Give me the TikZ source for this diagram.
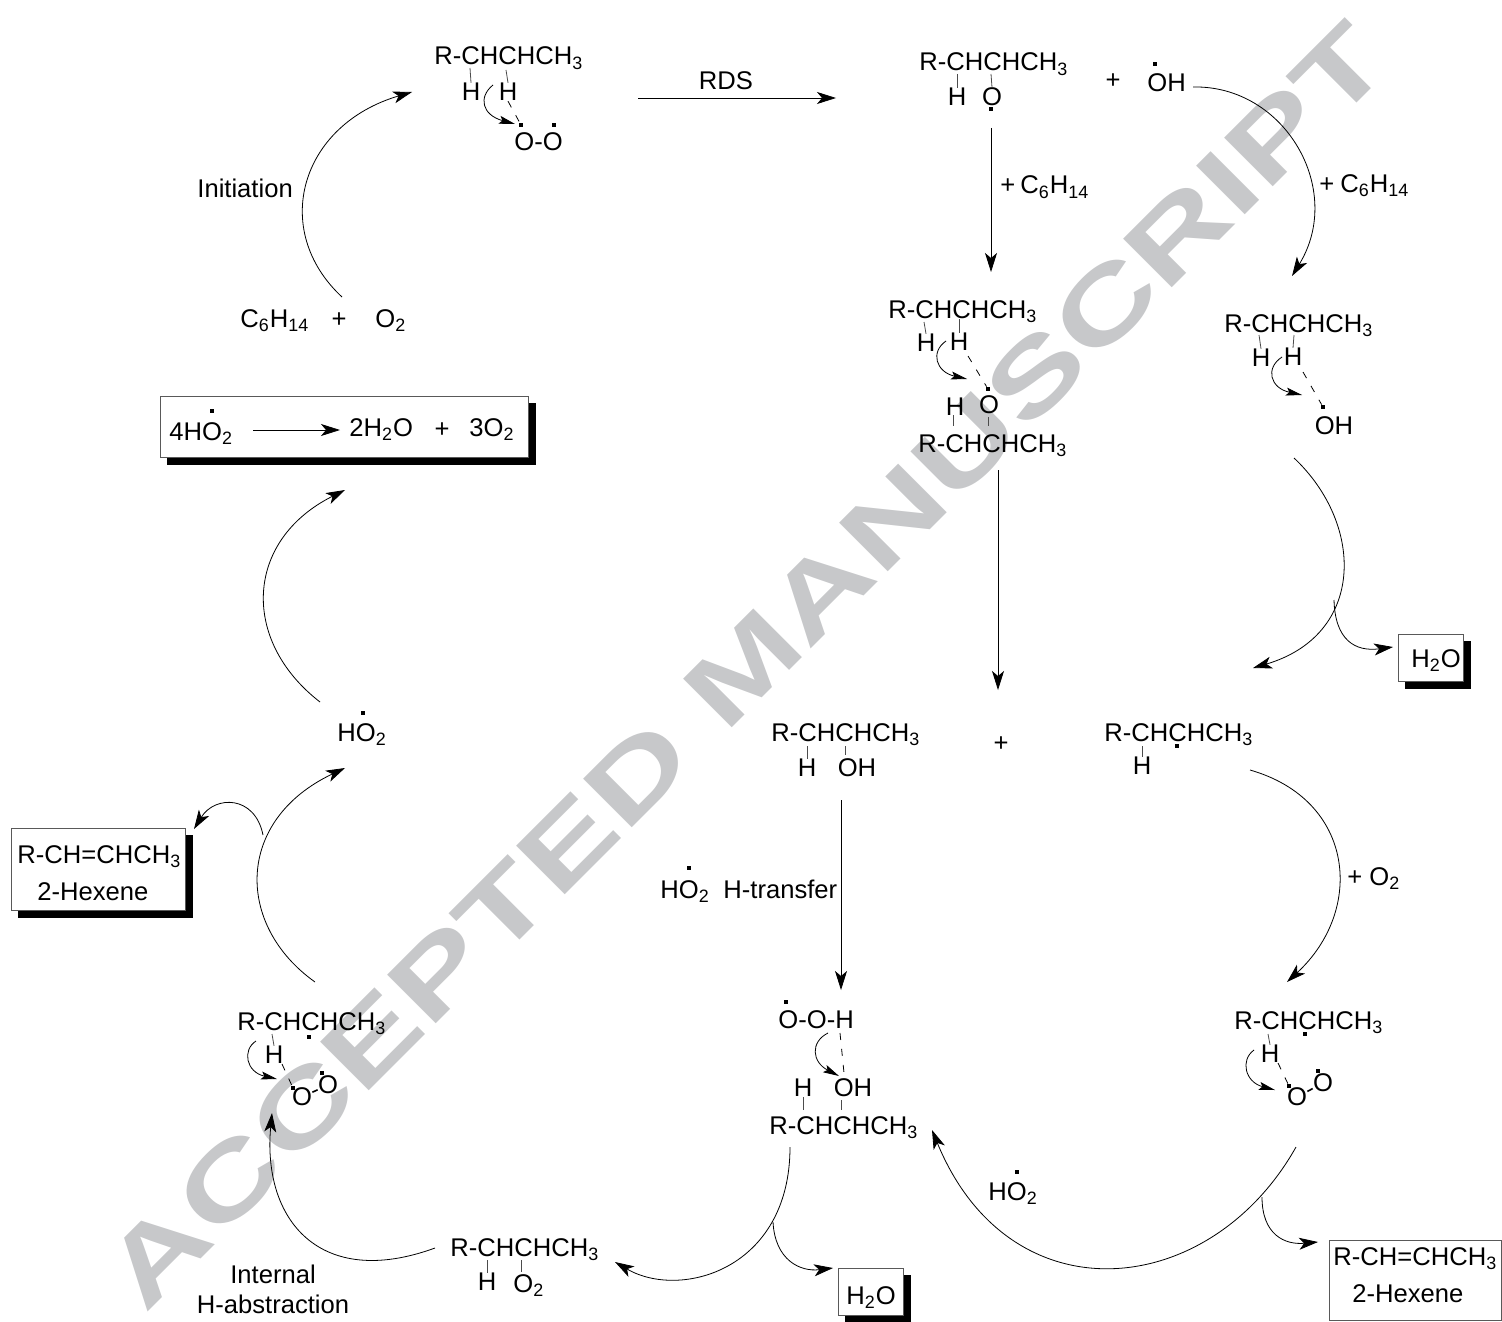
\documentclass[tikz,border=0pt]{standalone}
\usepackage{fontspec}
\setmainfont{Liberation Sans}
\newfontfamily\markfont[FakeStretch=1.42]{Liberation Sans}
\usetikzlibrary{arrows.meta,shadows}
\definecolor{markgrey}{RGB}{199,200,202}
\newcommand{\chain}{R-CHCHCH\textsubscript{3}}
\newcommand{\hexene}{R-CH=CHCH\textsubscript{3}}
\begin{document}
\begin{tikzpicture}[x=0.5pt,y=-0.5pt,
    txt/.style={anchor=base west, inner sep=0pt, font=\fontsize{12.8}{14}\selectfont},
    mid/.style={txt, anchor=center},
    rad/.style={fill=black, inner sep=0pt, minimum size=2pt},
    bond/.style={line width=0.4pt, black!70},
    oobond/.style={line width=0.8pt},
    hbond/.style={line width=0.4pt, dash pattern=on 3.5pt off 4.5pt},
    arr/.style={-{Stealth[length=9.5pt,width=6pt,inset=2.5pt]}, line width=0.4pt},
    barr/.style={-{Stealth[length=8pt,width=4pt,inset=1.5pt]}, line width=0.4pt},
    framebox/.style={draw=black!65, fill=white, line width=0.5pt, inner sep=0pt, anchor=north west},
    shadowbox/.style={framebox, copy shadow={draw=black, fill=black, shadow xshift=3.5pt, shadow yshift=-3.5pt}}
]
\useasboundingbox (0,0) rectangle (1502,1321);

% watermark
\node[anchor=base west, inner sep=0pt, text=markgrey, rotate=45, font=\markfont\fontsize{50}{50}\selectfont\bfseries] (mark) at (145,1315) {ACCEPTED MANUSCRIPT};

% boxes
\node[shadowbox, minimum width=184pt, minimum height=30.5pt] (boxrate) at (160,396) {};
\node[shadowbox, minimum width=32.5pt, minimum height=23.5pt] (boxwatera) at (1398,634) {};
\node[shadowbox, minimum width=87pt, minimum height=41pt] (boxhexa) at (11,828) {};
\node[shadowbox, minimum width=32.5pt, minimum height=23.5pt] (boxwaterb) at (838,1268) {};
\node[framebox, minimum width=86pt, minimum height=40pt] (boxhexb) at (1329,1240) {};

% top left
\node[txt] (init) at (197,198) {Initiation};
\node[txt] (hexane) at (240,327) {C\textsubscript{6}H\textsubscript{14}};
\node[mid] (plusa) at (339,320) {+};
\node[txt] (oxygen) at (375,327) {O\textsubscript{2}};

% peroxide on top
\node[txt] (chaina) at (434,65) {\chain};
\node[mid] (ha) at (471,92) {H};
\node[mid] (hb) at (508,92) {H};
\node[txt] (ooa) at (514,151) {O-O};
\node[rad] (rada) at (521,125) {};
\node[rad] (radb) at (554,125) {};
\draw[bond] (470,68) -- (ha.north);
\draw[bond] (506,70) -- (hb.north);
\draw[hbond] (hb.south) -- (rada);
\coordinate (cua) at (493,85);
\coordinate (cub) at (515,124);
\draw[barr] (cua) .. controls (478,97) and (482,115) .. (cub);

% RDS
\coordinate (rdsa) at (638,98);
\coordinate (rdsb) at (836,98);
\draw[arr] (rdsa) -- (rdsb);
\node[mid] (rds) at (726,81) {RDS};

% alkoxy
\node[txt] (chainb) at (919,71) {\chain};
\node[mid] (hc) at (957,97) {H};
\node[mid] (oa) at (992,97) {O};
\node[rad] (radc) at (991,109) {};
\draw[bond] (957,74) -- (hc.north);
\draw[bond] (991,74) -- (oa.north);
\node[mid] (plusb) at (1113,81) {+};
\node[txt] (oha) at (1147,92) {OH};
\node[rad] (radd) at (1155,64) {};

% initiation arcs
\coordinate (inita) at (342,297);
\coordinate (initb) at (412,92);
\draw[arr] (inita) .. controls (270,230) and (300,125) .. (initb);
\coordinate (oha1) at (1193,87);
\coordinate (oha2) at (1292,276);
\draw[arr] (oha1) .. controls (1285,85) and (1345,190) .. (oha2);
\coordinate (alka) at (991,128);
\coordinate (alkb) at (991,272);
\draw[arr] (alka) -- (alkb);
\node[txt] (hexa) at (1000,194) {+\hspace{2.5pt}C\textsubscript{6}H\textsubscript{14}};
\node[txt] (hexb) at (1319,192) {+\hspace{3pt}C\textsubscript{6}H\textsubscript{14}};

% middle complex
\node[txt] (chainc) at (888,318) {\chain};
\node[mid] (hd) at (926,343) {H};
\node[mid] (he) at (959,342) {H};
\draw[bond] (924,322) -- (hd.north);
\draw[bond] (959,319) -- (he.north);
\node[rad] (rade) at (988,389) {};
\node[mid] (ob) at (989,405) {O};
\node[mid] (hf) at (955,407) {H};
\node[txt] (chaind) at (918,452) {\chain};
\draw[bond] (953,415) -- (953,426);
\draw[bond] (988,417) -- (988,426);
\draw[hbond] (968,356) -- (rade);
\coordinate (cuc) at (946,341);
\coordinate (cud) at (967,379);
\draw[barr] (cuc) .. controls (930,352) and (936,372) .. (cud);

% right complex
\node[txt] (chaine) at (1224,332) {\chain};
\node[mid] (hg) at (1261,358) {H};
\node[mid] (hh) at (1293,357) {H};
\draw[bond] (1259,335) -- (hg.north);
\draw[bond] (1294,335) -- (hh.north);
\node[rad] (radf) at (1323,407) {};
\node[mid] (ohb) at (1334,426) {OH};
\draw[hbond] (1303,372) -- (radf);
\coordinate (cue) at (1282,357);
\coordinate (cuf) at (1302,395);
\draw[barr] (cue) .. controls (1265,368) and (1270,388) .. (cuf);

% long arrows in the middle
\coordinate (alkc) at (998,470);
\coordinate (alkd) at (998,690);
\draw[arr] (alkc) -- (alkd);
\coordinate (wata) at (1294,458);
\coordinate (watb) at (1253,668);
\coordinate (watc) at (1334,600);
\draw[arr] (wata) .. controls (1365,525) and (1365,635) .. (watb);
\draw[arr] (watc) .. controls (1335,640) and (1355,652) .. (1393,647);
\node[txt] (watera) at (1411,667) {H\textsubscript{2}O};

% alcohol and alkyl
\node[txt] (chainf) at (771,741) {\chain};
\node[mid] (hi) at (807,768) {H};
\node[mid] (ohc) at (857,768) {OH};
\draw[bond] (807,746) -- (hi.north);
\draw[bond] (845,746) -- (845,755);
\node[mid] (plusc) at (1001,744) {+};
\node[txt] (chaing) at (1104,741) {\chain};
\node[mid] (hj) at (1142,766) {H};
\draw[bond] (1142,746) -- (hj.north);
\node[rad] (radg) at (1177,746) {};

% HO2 left
\node[txt] (hoa) at (337,741) {HO\textsubscript{2}};
\node[rad] (radh) at (363,713) {};
\coordinate (upa) at (320,702);
\coordinate (upb) at (345,490);
\draw[arr] (upa) .. controls (240,640) and (245,540) .. (upb);
\node[txt] (rate) at (169,440) {4HO\textsubscript{2}};
\node[rad] (radi) at (212,411) {};
\coordinate (ratea) at (253,430);
\coordinate (rateb) at (340,430);
\draw[arr] (ratea) -- (rateb);
\node[txt] (ratec) at (349,436) {2H\textsubscript{2}O};
\node[mid] (plusd) at (442,430) {+};
\node[txt] (rated) at (469,436) {3O\textsubscript{2}};

% left product
\coordinate (lfa) at (315,982);
\coordinate (lfb) at (345,768);
\coordinate (lfc) at (263,835);
\coordinate (lfd) at (194,829);
\draw[arr] (lfa) .. controls (235,925) and (235,820) .. (lfb);
\draw[arr] (lfc) .. controls (255,795) and (215,795) .. (lfd);
\node[txt] (hexc) at (17,863) {\hexene};
\node[txt] (hexd) at (37,900) {2-Hexene};

% H-transfer
\coordinate (tra) at (841,800);
\coordinate (trb) at (841,990);
\draw[arr] (tra) -- (trb);
\node[txt] (hob) at (660,898) {HO\textsubscript{2}};
\node[rad] (radj) at (689,868) {};
\node[txt] (trans) at (723,898) {H-transfer};

% O2 addition
\coordinate (oxa) at (1250,770);
\coordinate (oxb) at (1287,982);
\draw[arr] (oxa) .. controls (1355,800) and (1365,910) .. (oxb);
\node[txt] (oxc) at (1347,885) {+ O\textsubscript{2}};

% peroxy left
\node[txt] (chainh) at (237,1030) {\chain};
\node[mid] (hk) at (274,1055) {H};
\node[rad] (radk) at (309,1037) {};
\draw[bond] (272,1034) -- (hk.north);
\node[mid] (oc) at (302,1097) {O};
\node[mid] (od) at (328,1085) {O};
\draw[oobond] (oc) -- (od);
\node[rad] (radl) at (293,1088) {};
\node[rad] (radm) at (322,1073) {};
\draw[hbond] (282,1064) -- (radl);
\coordinate (cug) at (256,1041);
\coordinate (cuh) at (277,1079);
\draw[barr] (cug) .. controls (242,1050) and (246,1072) .. (cuh);

% peroxy right
\node[txt] (chaini) at (1234,1029) {\chain};
\node[mid] (hl) at (1270,1054) {H};
\node[rad] (radn) at (1305,1034) {};
\draw[bond] (1268,1034) -- (hl.north);
\node[mid] (oe) at (1297,1097) {O};
\node[mid] (of) at (1323,1083) {O};
\draw[oobond] (oe) -- (of);
\node[rad] (rado) at (1289,1086) {};
\node[rad] (radp) at (1318,1071) {};
\draw[hbond] (1278,1063) -- (rado);
\coordinate (cui) at (1254,1050);
\coordinate (cuj) at (1275,1090);
\draw[barr] (cui) .. controls (1240,1060) and (1245,1082) .. (cuj);

% hydroperoxide complex
\node[txt] (ooh) at (778,1028) {O-O-H};
\node[rad] (radq) at (786,1002) {};
\node[mid] (hm) at (803,1088) {H};
\node[mid] (ohd) at (853,1088) {OH};
\node[txt] (chainj) at (769,1134) {\chain};
\draw[bond] (hm.south) -- (803,1110);
\draw[bond] (841,1100) -- (841,1110);
\draw[hbond] (840,1033) -- (844,1073);
\coordinate (cuk) at (828,1033);
\coordinate (cul) at (839,1076);
\draw[barr] (cuk) .. controls (810,1042) and (812,1062) .. (cul);

% bottom row
\node[txt] (chaink) at (450,1256) {\chain};
\node[mid] (hn) at (487,1282) {H};
\node[txt] (ox) at (513,1292) {O\textsubscript{2}};
\draw[bond] (487,1260) -- (hn.north);
\draw[bond] (521,1260) -- (521,1272);
\node[txt] (waterb) at (846,1304) {H\textsubscript{2}O};
\node[txt] (hexe) at (1333,1265) {\hexene};
\node[txt] (hexf) at (1352,1302) {2-Hexene};
\node[txt] (hoc) at (988,1200) {HO\textsubscript{2}};
\node[rad] (radr) at (1017,1172) {};
\node[mid] (inta) at (273,1274) {Internal};
\node[mid] (intb) at (273,1304) {H-abstraction};

\coordinate (bta) at (1296,1147);
\coordinate (btb) at (932,1130);
\coordinate (btc) at (1262,1197);
\coordinate (btd) at (1318,1242);
\draw[arr] (bta) .. controls (1210,1300) and (1010,1320) .. (btb);
\draw[arr] (btc) .. controls (1262,1235) and (1285,1245) .. (btd);
\coordinate (cta) at (790,1147);
\coordinate (ctb) at (615,1262);
\coordinate (ctc) at (773,1222);
\coordinate (ctd) at (833,1268);
\draw[arr] (cta) .. controls (790,1270) and (680,1300) .. (ctb);
\draw[arr] (ctc) .. controls (775,1260) and (800,1272) .. (ctd);
\coordinate (ina) at (435,1248);
\coordinate (inb) at (272,1113);
\draw[arr] (ina) .. controls (320,1290) and (262,1220) .. (inb);
\end{tikzpicture}
\end{document}
